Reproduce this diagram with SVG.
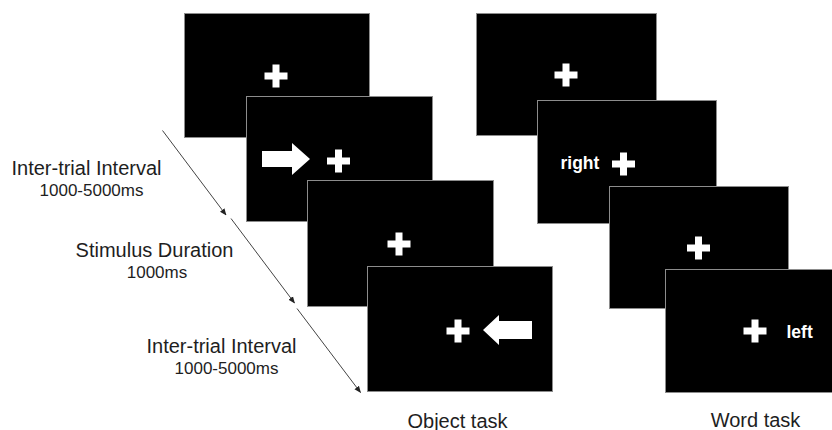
<svg xmlns="http://www.w3.org/2000/svg" xmlns:xlink="http://www.w3.org/1999/xlink" width="832" height="430" viewBox="0 0 832 430">
<style>
.screen{fill:#000;stroke:#8c8c8c;stroke-width:1}
.fix{fill:#fff}
.label{font-family:"Liberation Sans",Arial,sans-serif;fill:#1e1e1e;text-anchor:middle}
.big{font-size:20px}
.small{font-size:17px}
.word{font-family:"Liberation Sans",Arial,sans-serif;font-weight:bold;font-size:17.5px;fill:#fff}
.time{stroke:#444;stroke-width:1;fill:none;marker-end:url(#head)}
</style>
<defs>
<path id="cross" d="M-3.5,-11.5H3.5V-3.5H11.5V3.5H3.5V11.5H-3.5V3.5H-11.5V-3.5H-3.5Z"/>
<marker id="head" viewBox="0 0 10 10" refX="9" refY="5" markerWidth="7" markerHeight="7" markerUnits="userSpaceOnUse" orient="auto">
<path d="M0,1L10,5L0,9Z" fill="#222"/>
</marker>
</defs>
<rect width="832" height="430" fill="#fff"/>

<g id="object-screen-1">
<rect class="screen" x="184.5" y="13.5" width="185" height="124"/>
<use href="#cross" class="fix" x="276" y="76"/>
</g>
<g id="object-screen-2">
<rect class="screen" x="246.5" y="96.5" width="186" height="125"/>
<path class="fix" d="M262,151H292V143L310,159L292,175V167H262Z"/>
<use href="#cross" class="fix" x="338.5" y="161"/>
</g>
<g id="object-screen-3">
<rect class="screen" x="307.5" y="180.5" width="186" height="126"/>
<use href="#cross" class="fix" x="399" y="244"/>
</g>
<g id="object-screen-4">
<rect class="screen" x="367.5" y="266.5" width="185" height="125"/>
<use href="#cross" class="fix" x="458" y="331"/>
<path class="fix" d="M532,321H499V315L483,330L499,345V339H532Z"/>
</g>

<g id="word-screen-1">
<rect class="screen" x="476.5" y="13.5" width="180" height="122"/>
<use href="#cross" class="fix" x="566" y="75"/>
</g>
<g id="word-screen-2">
<rect class="screen" x="537.5" y="100.5" width="179" height="123"/>
<text class="word" x="560.5" y="168.5">right</text>
<use href="#cross" class="fix" x="623.5" y="164"/>
</g>
<g id="word-screen-3">
<rect class="screen" x="609.5" y="186.5" width="179" height="122"/>
<use href="#cross" class="fix" x="698.5" y="248"/>
</g>
<g id="word-screen-4">
<rect class="screen" x="665.5" y="269.5" width="180" height="123"/>
<use href="#cross" class="fix" x="755" y="331"/>
<text class="word" x="786.5" y="337.5">left</text>
</g>

<g id="connectors">
<line class="time" x1="162.5" y1="130.5" x2="226" y2="215"/>
<line class="time" x1="231" y1="218.5" x2="294.5" y2="303"/>
<line class="time" x1="297" y1="308.5" x2="360.5" y2="392.5"/>
</g>

<g id="labels">
<text class="label big" x="86.5" y="175">Inter-trial Interval</text>
<text class="label small" x="91.5" y="196">1000-5000ms</text>
<text class="label big" x="154.5" y="256.5">Stimulus Duration</text>
<text class="label small" x="157" y="278">1000ms</text>
<text class="label big" x="221.5" y="353">Inter-trial Interval</text>
<text class="label small" x="226.5" y="374">1000-5000ms</text>
<text class="label big" x="457.5" y="427.5">Object task</text>
<text class="label big" x="755.5" y="426.5">Word task</text>
</g>
</svg>
